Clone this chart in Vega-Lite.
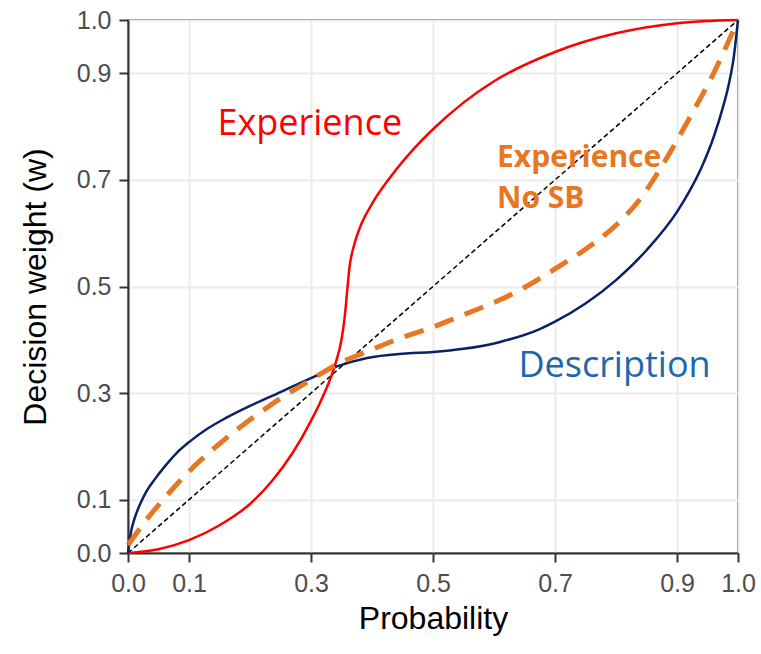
{
  "$schema": "https://vega.github.io/schema/vega-lite/v6.json",
  "width": 610,
  "height": 533,
  "autosize": {"type": "none"},
  "padding": {"left": 128, "top": 20, "right": 23, "bottom": 101},
  "background": "white",
  "config": {
    "view": {"stroke": "#333333", "strokeWidth": 1.5},
    "font": "Liberation Sans",
    "axis": {
      "labelFlush": false,
      "labelOverlap": false,
      "labelFontSize": 25,
      "labelColor": "#4D4D4D",
      "tickSize": 9,
      "tickColor": "#333333",
      "tickWidth": 2,
      "domainColor": "#333333",
      "domainWidth": 2,
      "grid": true,
      "gridColor": "#EBEBEB",
      "gridWidth": 2,
      "titleFontSize": 32,
      "titleFontWeight": "normal",
      "titleColor": "#000000"
    }
  },
  "datasets": {
    "curves": [
      {"series": "Experience", "p": 0, "w": 0},
      {"series": "Experience", "p": 0.05, "w": 0.007},
      {"series": "Experience", "p": 0.1, "w": 0.024},
      {"series": "Experience", "p": 0.15, "w": 0.052},
      {"series": "Experience", "p": 0.2, "w": 0.092},
      {"series": "Experience", "p": 0.236, "w": 0.135},
      {"series": "Experience", "p": 0.27, "w": 0.188},
      {"series": "Experience", "p": 0.3, "w": 0.248},
      {"series": "Experience", "p": 0.32, "w": 0.295},
      {"series": "Experience", "p": 0.34, "w": 0.355},
      {"series": "Experience", "p": 0.35, "w": 0.4},
      {"series": "Experience", "p": 0.355, "w": 0.44},
      {"series": "Experience", "p": 0.36, "w": 0.5},
      {"series": "Experience", "p": 0.363, "w": 0.535},
      {"series": "Experience", "p": 0.37, "w": 0.575},
      {"series": "Experience", "p": 0.38, "w": 0.61},
      {"series": "Experience", "p": 0.4, "w": 0.655},
      {"series": "Experience", "p": 0.43, "w": 0.705},
      {"series": "Experience", "p": 0.47, "w": 0.76},
      {"series": "Experience", "p": 0.5, "w": 0.795},
      {"series": "Experience", "p": 0.55, "w": 0.845},
      {"series": "Experience", "p": 0.6, "w": 0.885},
      {"series": "Experience", "p": 0.7, "w": 0.94},
      {"series": "Experience", "p": 0.8, "w": 0.975},
      {"series": "Experience", "p": 0.9, "w": 0.994},
      {"series": "Experience", "p": 1, "w": 1},
      {"series": "Description", "p": 0, "w": 0},
      {"series": "Description", "p": 0.005, "w": 0.04},
      {"series": "Description", "p": 0.01, "w": 0.062},
      {"series": "Description", "p": 0.02, "w": 0.092},
      {"series": "Description", "p": 0.03, "w": 0.115},
      {"series": "Description", "p": 0.045, "w": 0.14},
      {"series": "Description", "p": 0.06, "w": 0.162},
      {"series": "Description", "p": 0.08, "w": 0.188},
      {"series": "Description", "p": 0.1, "w": 0.208},
      {"series": "Description", "p": 0.13, "w": 0.233},
      {"series": "Description", "p": 0.16, "w": 0.253},
      {"series": "Description", "p": 0.2, "w": 0.276},
      {"series": "Description", "p": 0.25, "w": 0.302},
      {"series": "Description", "p": 0.3, "w": 0.328},
      {"series": "Description", "p": 0.345, "w": 0.351},
      {"series": "Description", "p": 0.392, "w": 0.366},
      {"series": "Description", "p": 0.45, "w": 0.374},
      {"series": "Description", "p": 0.5, "w": 0.377},
      {"series": "Description", "p": 0.55, "w": 0.383},
      {"series": "Description", "p": 0.61, "w": 0.396},
      {"series": "Description", "p": 0.675, "w": 0.42},
      {"series": "Description", "p": 0.7, "w": 0.434},
      {"series": "Description", "p": 0.75, "w": 0.468},
      {"series": "Description", "p": 0.8, "w": 0.512},
      {"series": "Description", "p": 0.85, "w": 0.568},
      {"series": "Description", "p": 0.9, "w": 0.64},
      {"series": "Description", "p": 0.92, "w": 0.678},
      {"series": "Description", "p": 0.94, "w": 0.723},
      {"series": "Description", "p": 0.96, "w": 0.78},
      {"series": "Description", "p": 0.975, "w": 0.835},
      {"series": "Description", "p": 0.985, "w": 0.88},
      {"series": "Description", "p": 0.993, "w": 0.93},
      {"series": "Description", "p": 1, "w": 1},
      {"series": "Experience No SB", "p": 0, "w": 0.015},
      {"series": "Experience No SB", "p": 0.03, "w": 0.062},
      {"series": "Experience No SB", "p": 0.05, "w": 0.09},
      {"series": "Experience No SB", "p": 0.085, "w": 0.135},
      {"series": "Experience No SB", "p": 0.1, "w": 0.153},
      {"series": "Experience No SB", "p": 0.15, "w": 0.205},
      {"series": "Experience No SB", "p": 0.2, "w": 0.25},
      {"series": "Experience No SB", "p": 0.25, "w": 0.29},
      {"series": "Experience No SB", "p": 0.3, "w": 0.325},
      {"series": "Experience No SB", "p": 0.345, "w": 0.355},
      {"series": "Experience No SB", "p": 0.392, "w": 0.378},
      {"series": "Experience No SB", "p": 0.446, "w": 0.403},
      {"series": "Experience No SB", "p": 0.5, "w": 0.424},
      {"series": "Experience No SB", "p": 0.55, "w": 0.447},
      {"series": "Experience No SB", "p": 0.61, "w": 0.475},
      {"series": "Experience No SB", "p": 0.65, "w": 0.498},
      {"series": "Experience No SB", "p": 0.7, "w": 0.533},
      {"series": "Experience No SB", "p": 0.75, "w": 0.57},
      {"series": "Experience No SB", "p": 0.8, "w": 0.615},
      {"series": "Experience No SB", "p": 0.84, "w": 0.665},
      {"series": "Experience No SB", "p": 0.88, "w": 0.735},
      {"series": "Experience No SB", "p": 0.92, "w": 0.815},
      {"series": "Experience No SB", "p": 0.96, "w": 0.9},
      {"series": "Experience No SB", "p": 1, "w": 1},
      {"series": "Identity", "p": 0, "w": 0},
      {"series": "Identity", "p": 1, "w": 1}
    ],
    "labels": [
      {"label": "Experience"},
      {"label": "Experience No SB"},
      {"label": "Description"}
    ]
  },
  "layer": [
    {
      "data": {"name": "curves"},
      "transform": [{"filter": "datum.series === 'Identity'"}],
      "mark": {"type": "line", "color": "#000000", "strokeWidth": 1.5, "strokeDash": [5, 3]},
      "encoding": {
        "x": {
          "field": "p",
          "type": "quantitative",
          "scale": {"domain": [0, 1], "nice": false, "zero": false},
          "axis": {
            "title": "Probability",
            "values": [0, 0.1, 0.3, 0.5, 0.7, 0.9, 1],
            "format": ".1f",
            "labelPadding": 9,
            "titleBaseline": "alphabetic",
            "titleX": 305,
            "titleY": 75,
            "titleAlign": "center"
          }
        },
        "y": {
          "field": "w",
          "type": "quantitative",
          "scale": {"domain": [0, 1], "nice": false, "zero": false},
          "axis": {
            "title": "Decision weight (w)",
            "values": [0, 0.1, 0.3, 0.5, 0.7, 0.9, 1],
            "format": ".1f",
            "labelPadding": 8,
            "titleAngle": -90,
            "titleBaseline": "alphabetic",
            "titleAlign": "center",
            "titleX": -83,
            "titleY": 266.5
          }
        }
      }
    },
    {
      "data": {"name": "curves"},
      "transform": [{"filter": "datum.series === 'Experience'"}],
      "mark": {"type": "line", "color": "#FF0000", "strokeWidth": 2.5, "interpolate": "monotone"},
      "encoding": {
        "x": {"field": "p", "type": "quantitative"},
        "y": {"field": "w", "type": "quantitative"}
      }
    },
    {
      "data": {"name": "curves"},
      "transform": [{"filter": "datum.series === 'Description'"}],
      "mark": {"type": "line", "color": "#0B2166", "strokeWidth": 2.5, "interpolate": "monotone"},
      "encoding": {
        "x": {"field": "p", "type": "quantitative"},
        "y": {"field": "w", "type": "quantitative"}
      }
    },
    {
      "data": {"name": "curves"},
      "transform": [{"filter": "datum.series === 'Experience No SB'"}],
      "mark": {"type": "line", "color": "#E87722", "strokeWidth": 5, "strokeDash": [20, 12], "interpolate": "monotone"},
      "encoding": {
        "x": {"field": "p", "type": "quantitative"},
        "y": {"field": "w", "type": "quantitative"}
      }
    },
    {
      "data": {"name": "labels"},
      "transform": [{"filter": "datum.label === 'Experience'"}],
      "mark": {"type": "text", "color": "#FF0000", "font": "Open Sans", "fontSize": 36, "align": "center", "baseline": "alphabetic"},
      "encoding": {
        "x": {"datum": 0.298, "type": "quantitative"},
        "y": {"datum": 0.784, "type": "quantitative"},
        "text": {"field": "label"}
      }
    },
    {
      "data": {"name": "labels"},
      "transform": [{"filter": "datum.label === 'Experience No SB'"}],
      "mark": {"type": "text", "text": ["Experience", "No SB"], "lineHeight": 41, "color": "#E87722", "font": "Open Sans", "fontWeight": "bold", "fontSize": 30, "align": "left", "baseline": "alphabetic"},
      "encoding": {
        "x": {"datum": 0.605, "type": "quantitative"},
        "y": {"datum": 0.725, "type": "quantitative"}
      }
    },
    {
      "data": {"name": "labels"},
      "transform": [{"filter": "datum.label === 'Description'"}],
      "mark": {"type": "text", "color": "#1C67AE", "font": "Open Sans", "fontSize": 36, "align": "left", "baseline": "alphabetic"},
      "encoding": {
        "x": {"datum": 0.64, "type": "quantitative"},
        "y": {"datum": 0.331, "type": "quantitative"},
        "text": {"field": "label"}
      }
    }
  ]
}
